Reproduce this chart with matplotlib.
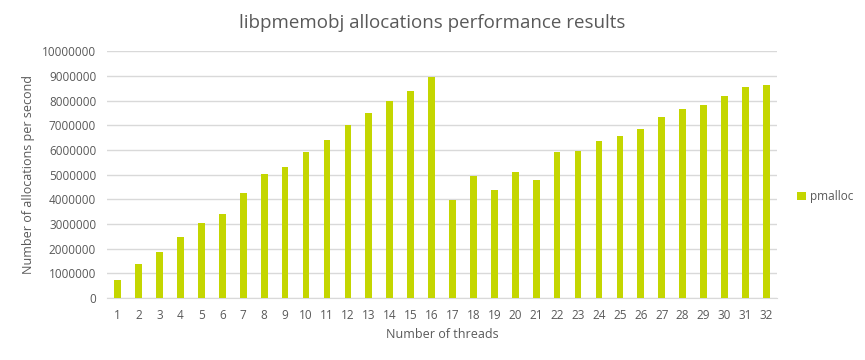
import matplotlib
matplotlib.use("Agg")
import matplotlib.pyplot as plt

plt.rcParams['font.family'] = ['Open Sans', 'DejaVu Sans']

threads = list(range(1, 33))
pmalloc = [720000, 1360000, 1850000, 2460000, 3030000, 3390000, 4240000, 5010000,
           5300000, 5910000, 6390000, 7000000, 7490000, 7970000, 8380000, 8950000,
           3970000, 4940000, 4370000, 5100000, 4780000, 5910000, 5950000, 6360000,
           6560000, 6840000, 7330000, 7650000, 7810000, 8180000, 8540000, 8620000]
yticks = list(range(0, 10000001, 1000000))

text_col = '#595959'
bar_col = '#c4d600'

fig = plt.figure(figsize=(8.65, 3.6), dpi=100)
ax = fig.add_axes([0.124, 0.172, 0.774, 0.686])

ax.bar(threads, pmalloc, width=0.32, color=bar_col, label='pmalloc', zorder=3)

ax.set_ylim(0, 10000000)
ax.set_xlim(0.5, 32.5)
ax.set_yticks(yticks)
ax.set_yticklabels([str(v) for v in yticks])
ax.set_xticks(threads)
ax.set_xticklabels([str(t) for t in threads])
ax.grid(axis='y', color='#d9d9d9', linewidth=1, zorder=0)
ax.tick_params(axis='both', length=0, labelsize=8.5, colors=text_col, pad=8)
for s in ['top', 'right', 'left']:
    ax.spines[s].set_visible(False)
ax.spines['bottom'].set_color('#d9d9d9')

ax.set_xlabel('Number of threads', fontsize=9, color=text_col, labelpad=4)
ax.set_ylabel('Number of allocations per second', fontsize=9, color=text_col, labelpad=5)
fig.text(0.5, 0.935, 'libpmemobj allocations performance results', ha='center',
         va='center', fontsize=13.5, color=text_col)

leg = ax.legend(loc='center left', bbox_to_anchor=(1.015, 0.41), frameon=False,
                fontsize=8.5, handlelength=0.7, handleheight=0.7, handletextpad=0.4)
for t in leg.get_texts():
    t.set_color(text_col)

fig.savefig('out.png', dpi=100)
